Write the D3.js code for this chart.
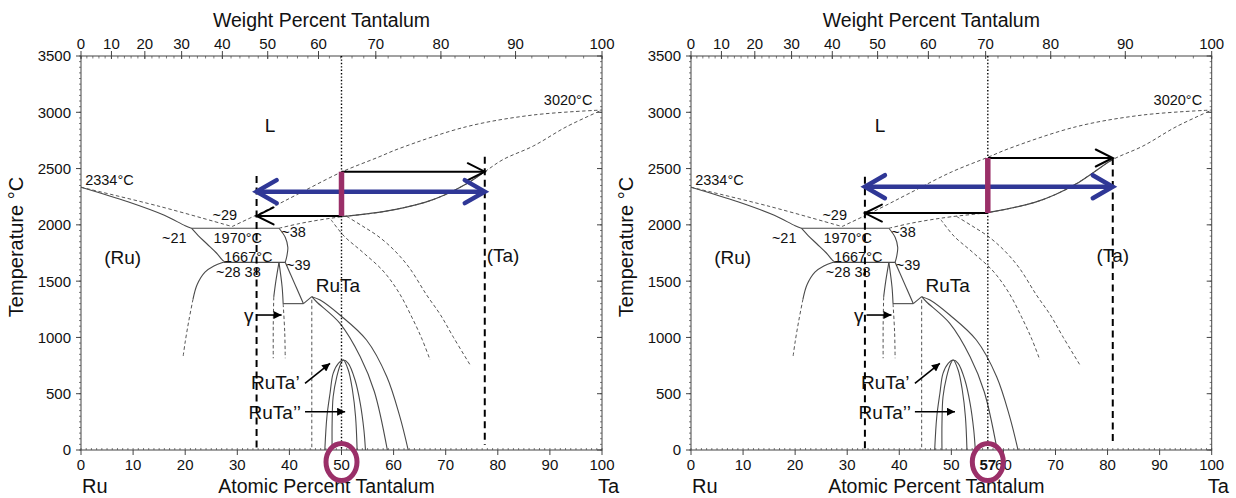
<!DOCTYPE html>
<html>
<head>
<meta charset="utf-8">
<script src="https://cdn.jsdelivr.net/npm/d3@7/dist/d3.min.js"></script>
<style>
html,body{margin:0;padding:0;background:#fff;}
svg{display:block;}
text{font-family:"Liberation Sans",Arial,Helvetica,sans-serif;fill:#111;}
</style>
</head>
<body>
<svg id="chart" width="1236" height="498"></svg>
<script>
// ---------------- data ----------------
const atomicTicks = [0,10,20,30,40,50,60,70,80,90,100];
const weightTicks = [0,10,20,30,40,50,60,70,80,90,100];
const tempTicks = [0,500,1000,1500,2000,2500,3000,3500];

// phase boundaries : [atomic % Ta, temperature °C]
const ruSolidus    = [[0,2334],[9,2205],[16,2085],[20,1992],[21.2,1970]];
const ruLiquidus   = [[0,2334],[15,2165],[29,1985]];
const taLiquidus   = [[29,1985],[36,2140],[42,2282],[50,2469],[57,2600],[61.2,2680],[74,2872],[86.8,2976],[100,3020]];
const taSolidus    = [[38,1970],[42,2012],[46,2045],[50,2072],[58,2117],[66,2200],[70,2270],[74,2365],[77.5,2472],[81,2580],[86.8,2700],[93.2,2872],[100,3020]];
const line1970     = [[21.2,1970],[38,1970]];
const highLeft     = [[21.2,1970],[22.5,1905],[24.2,1830],[26,1750],[27.2,1685],[27.8,1667]];
const highRight    = [[38,1970],[39.2,1890],[39.7,1800],[39.5,1720],[39.2,1667]];
const line1667     = [[27.3,1667],[39.2,1667]];
const ruSolvus     = [[27.3,1667],[25.5,1635],[23.8,1580],[22.3,1470],[21.5,1340]];
const ruSolvusLow  = [[21.5,1340],[20.7,1150],[20,960],[19.6,830]];
const gammaLeft    = [[38,1667],[37.4,1500],[37,1360]];
const gammaLeftLow = [[37,1360],[36.9,1100],[36.9,815]];
const gammaRight   = [[38,1667],[38.6,1450],[38.8,1300]];
const gammaRightLow= [[38.8,1300],[39.1,1050],[39.2,815]];
const line1300     = [[38.8,1300],[42.7,1300]];
const line39       = [[39.2,1667],[42.7,1300]];
const rutaRise     = [[42.7,1300],[44.3,1362]];
const rutaLeftEdge = [[44.3,1335],[44.3,0]];
const rutaOuter    = [[44.3,1362],[45.9,1332],[49.7,1199],[54.8,977],[58.7,651],[61.2,296],[62.8,0]];
const rutaInner    = [[44.3,1362],[45.2,1317],[49.7,1125],[53.6,829],[56.3,520],[58.8,0]];
const primeOuter   = [[46.8,0],[47.2,296],[47.8,504],[48.4,681],[49.4,770],[50.35,799],[51.3,770],[52.6,622],[53.6,415],[54.3,178],[54.6,0]];
const primeInner   = [[48.2,0],[48.2,237],[48.4,473],[49.1,651],[49.8,760],[50.35,799],[51.3,711],[52.1,533],[52.7,296],[53.0,0]];
const taSolvusA    = [[48,2045],[50.5,1900],[54,1760],[58,1590],[61,1400],[63.5,1180],[65.5,980],[67,800]];
const taSolvusB    = [[51,2075],[54,1990],[57,1900],[60,1780],[63,1620],[66.3,1380],[69,1200],[71.5,1000],[74.7,755]];

// lever-rule construction, one entry per panel
const alloyComp   = [50, 57];
const liquidComp  = [33.7, 33.4];
const solidComp   = [77.5, 81];
const tieUpperT   = [2472, 2594];
const tieLowerT   = [2079, 2105];
const blueArrowT  = [2295, 2339];
const liqGuideTop = [2434, 2428];
const solGuideTop = [2605, 2594];
const solGuideBot = [45, 60];
const circledLabel = ["50", "57"];

// annotations
const annText = ["L","2334°C","~29","~21","1970°C","~38","1667°C","~28 38","~39","(Ru)","RuTa","(Ta)","3020°C","γ","RuTa’","RuTa’’"];
const annAt   = [36.3,0.8,27.6,17.9,30.1,40.8,32.1,30.2,41.7,8.0,49.3,81,93.5,32.2,37.3,37.2];
const annT    = [2887,2398,2088,1886,1886,1939,1717,1584,1643,1717,1466,1732,3109,1199,607,340];
const annBig  = [true,false,false,false,false,false,false,false,false,true,true,true,false,true,true,true];

const pointerFrom = [[33.7,1199],[43,592],[43,340]];
const pointerTo   = [[38.5,1199],[47.8,770],[50.7,340]];

// ---------------- layout ----------------
const svg = d3.select("#chart");
const panelLeft = [81, 691];
const panelRight = [602, 1211.7];
const plotTop = 56, plotBottom = 450;
const MAGENTA = "#9a2f68", BLUE = "#2f3796";

const defs = svg.append("defs");
defs.append("marker").attr("id","tri").attr("viewBox","0 0 10 10")
  .attr("refX",10).attr("refY",5).attr("markerWidth",11).attr("markerHeight",8)
  .attr("markerUnits","userSpaceOnUse").attr("orient","auto")
  .append("path").attr("d","M0,0L10,5L0,10Z").attr("fill","#000");

function wtToAt(w){ const a = w/180.948, b = (100-w)/101.07; return 100*a/(a+b); }

function txt(g, s, x, yc, size, anchor, weight){
  return g.append("text").attr("x",x).attr("y",yc+0.36*size)
    .attr("font-size",size).attr("text-anchor",anchor||"middle")
    .attr("font-weight",weight||"normal").text(s);
}

function chevron(g, x1, y1, x2, y2, color, w, len, half){
  const ang = Math.atan2(y2-y1, x2-x1);
  const bx = x2 - len*Math.cos(ang), by = y2 - len*Math.sin(ang);
  const px = -Math.sin(ang)*half, py = Math.cos(ang)*half;
  g.append("path").attr("d", `M${bx+px},${by+py}L${x2},${y2}L${bx-px},${by-py}`)
    .attr("fill","none").attr("stroke",color).attr("stroke-width",w)
    .attr("stroke-linejoin","miter").attr("stroke-linecap","round");
}

function drawPanel(i){
  const g = svg.append("g");
  const x = d3.scaleLinear().domain([0,100]).range([panelLeft[i], panelRight[i]]);
  const y = d3.scaleLinear().domain([0,3500]).range([plotBottom, plotTop]);
  const curve = d3.line().x(d=>x(d[0])).y(d=>y(d[1])).curve(d3.curveCatmullRom.alpha(0.5));

  // ---- frame & axes ----
  const ax = g.append("g").attr("stroke","#444").attr("stroke-width",1).attr("fill","none");
  ax.append("rect").attr("x",x(0)).attr("y",y(3500)).attr("width",x(100)-x(0)).attr("height",y(0)-y(3500));
  // bottom
  ax.selectAll(".bmaj").data(atomicTicks).join("line")
    .attr("x1",d=>x(d)).attr("x2",d=>x(d)).attr("y1",y(0)).attr("y2",y(0)+5);
  ax.selectAll(".bmin").data(d3.range(0,101,1)).join("line")
    .attr("x1",d=>x(d)).attr("x2",d=>x(d)).attr("y1",y(0)).attr("y2",y(0)-2).attr("stroke-width",0.7);
  // top (weight %)
  ax.selectAll(".tmaj").data(weightTicks).join("line")
    .attr("x1",d=>x(wtToAt(d))).attr("x2",d=>x(wtToAt(d))).attr("y1",y(3500)-5).attr("y2",y(3500)+3);
  ax.selectAll(".tmin").data(d3.range(0,101,2)).join("line")
    .attr("x1",d=>x(wtToAt(d))).attr("x2",d=>x(wtToAt(d))).attr("y1",y(3500)).attr("y2",y(3500)+2.5).attr("stroke-width",0.7);
  // left
  ax.selectAll(".lmaj").data(tempTicks).join("line")
    .attr("x1",x(0)-5).attr("x2",x(0)).attr("y1",d=>y(d)).attr("y2",d=>y(d));
  ax.selectAll(".lmin").data(d3.range(0,3501,50)).join("line")
    .attr("x1",x(0)-2).attr("x2",x(0)).attr("y1",d=>y(d)).attr("y2",d=>y(d)).attr("stroke-width",0.7);
  // right
  ax.selectAll(".rmaj").data(tempTicks).join("line")
    .attr("x1",x(100)-5).attr("x2",x(100)).attr("y1",d=>y(d)).attr("y2",d=>y(d));
  ax.selectAll(".rmin").data(d3.range(0,3501,50)).join("line")
    .attr("x1",x(100)-2).attr("x2",x(100)).attr("y1",d=>y(d)).attr("y2",d=>y(d)).attr("stroke-width",0.7);

  // tick labels
  tempTicks.forEach(t => txt(g, String(t), x(0)-10, y(t), 15, "end"));
  weightTicks.forEach(w => txt(g, String(w), x(wtToAt(w)), 44, 15));
  atomicTicks.forEach(a => txt(g, String(a), x(a), 465, 15));

  // titles
  txt(g, "Weight Percent Tantalum", (x(0)+x(100))/2 - 20, 20, 19.5);
  g.append("text").attr("x",(x(0)+x(100))/2 - 15).attr("y",493).attr("font-size",19.5)
    .attr("text-anchor","middle").text("Atomic Percent Tantalum");
  g.append("text").attr("x",x(0)+1).attr("y",493).attr("font-size",20).text("Ru");
  g.append("text").attr("x",x(100)-4).attr("y",493).attr("font-size",20).text("Ta");
  g.append("text").attr("transform",`translate(${x(0)-58},${(y(0)+y(3500))/2-6}) rotate(-90)`)
    .attr("font-size",20).attr("text-anchor","middle").text("Temperature °C");

  // ---- phase boundaries ----
  const solid = [ruSolidus, line1970, highLeft, highRight, line1667, ruSolvus, gammaLeft, gammaRight,
                 line1300, line39, rutaRise, rutaOuter, rutaInner, primeOuter, primeInner];
  const dashed = [ruLiquidus, taLiquidus, taSolidus, ruSolvusLow, gammaLeftLow, gammaRightLow,
                  rutaLeftEdge, taSolvusA, taSolvusB];
  const pl = g.append("g").attr("fill","none");
  pl.selectAll(".s").data(solid).join("path").attr("d",curve)
    .attr("stroke","#4a4a4a").attr("stroke-width",1.1);
  pl.selectAll(".d").data(dashed).join("path").attr("d",curve)
    .attr("stroke","#555").attr("stroke-width",1).attr("stroke-dasharray","3.5,2.5");
  // solid part of (Ta) solidus along the tie line
  const clipId = "clip"+i;
  defs.append("clipPath").attr("id",clipId).append("rect")
    .attr("x",x(alloyComp[i])).attr("y",0)
    .attr("width",x(solidComp[i])-x(alloyComp[i])).attr("height",498);
  pl.append("path").datum(taSolidus).attr("d",curve).attr("clip-path",`url(#${clipId})`)
    .attr("stroke","#4a4a4a").attr("stroke-width",1.2);

  // ---- annotations ----
  annText.forEach((s,k) => txt(g, s, x(annAt[k]), y(annT[k]), annBig[k] ? 19 : 14.5, s==="2334°C" ? "start" : "middle"));
  pointerFrom.forEach((p,k) => {
    g.append("line").attr("x1",x(p[0])).attr("y1",y(p[1]))
      .attr("x2",x(pointerTo[k][0])).attr("y2",y(pointerTo[k][1]))
      .attr("stroke","#000").attr("stroke-width",1.6).attr("marker-end","url(#tri)");
  });

  // ---- lever-rule construction ----
  // dotted composition line
  g.append("line").attr("x1",x(alloyComp[i])).attr("x2",x(alloyComp[i]))
    .attr("y1",y(3500)).attr("y2",y(0)).attr("stroke","#000").attr("stroke-width",1.4)
    .attr("stroke-dasharray","1.4,2");
  // dashed guides
  g.append("line").attr("x1",x(liquidComp[i])).attr("x2",x(liquidComp[i]))
    .attr("y1",y(liqGuideTop[i])).attr("y2",y(0)).attr("stroke","#000").attr("stroke-width",2)
    .attr("stroke-dasharray","7,4.5");
  g.append("line").attr("x1",x(solidComp[i])).attr("x2",x(solidComp[i]))
    .attr("y1",y(solGuideTop[i])).attr("y2",y(solGuideBot[i])).attr("stroke","#000").attr("stroke-width",2)
    .attr("stroke-dasharray","7,4.5");
  // black tie arrows
  const ax1 = x(alloyComp[i]);
  g.append("line").attr("x1",ax1).attr("x2",x(solidComp[i])).attr("y1",y(tieUpperT[i])).attr("y2",y(tieUpperT[i]))
    .attr("stroke","#000").attr("stroke-width",2);
  chevron(g, ax1, y(tieUpperT[i]), x(solidComp[i]), y(tieUpperT[i]), "#000", 2, 17, 8.5);
  g.append("line").attr("x1",ax1).attr("x2",x(liquidComp[i])).attr("y1",y(tieLowerT[i])).attr("y2",y(tieLowerT[i]))
    .attr("stroke","#000").attr("stroke-width",2);
  chevron(g, ax1, y(tieLowerT[i]), x(liquidComp[i]), y(tieLowerT[i]), "#000", 2, 17, 8.5);
  // blue double arrow
  const by = y(blueArrowT[i]);
  g.append("line").attr("x1",x(liquidComp[i])+2).attr("x2",x(solidComp[i])-2).attr("y1",by).attr("y2",by)
    .attr("stroke",BLUE).attr("stroke-width",4.5);
  chevron(g, x(solidComp[i])-30, by, x(solidComp[i]), by, BLUE, 4.5, 20, 11.5);
  chevron(g, x(liquidComp[i])+30, by, x(liquidComp[i]), by, BLUE, 4.5, 20, 11.5);
  // magenta bar
  g.append("line").attr("x1",ax1).attr("x2",ax1).attr("y1",y(tieUpperT[i])).attr("y2",y(tieLowerT[i]))
    .attr("stroke",MAGENTA).attr("stroke-width",5.5);

  // circled composition on the bottom axis
  if (i === 1) txt(g, circledLabel[i], x(alloyComp[i]), 465, 15, "middle", "bold");
  g.append("ellipse").attr("cx",x(alloyComp[i])).attr("cy",462).attr("rx",15.5).attr("ry",18.5)
    .attr("fill","none").attr("stroke",MAGENTA).attr("stroke-width",5);
}

panelLeft.forEach((_, i) => drawPanel(i));
</script>
</body>
</html>
